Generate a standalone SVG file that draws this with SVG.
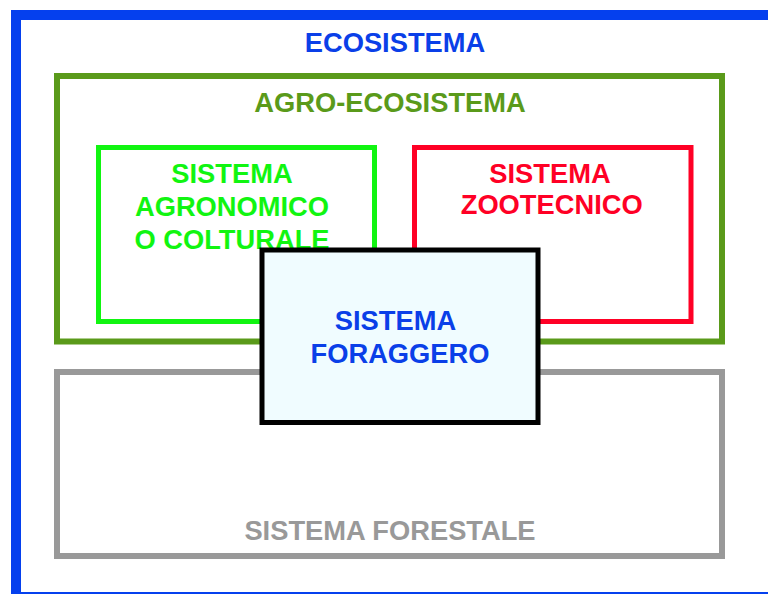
<svg xmlns="http://www.w3.org/2000/svg" width="768" height="594" viewBox="0 0 768 594">
<style>
.t{font-family:"Liberation Sans",Arial,sans-serif;font-weight:bold;font-size:27.3px;text-anchor:middle}
.box{fill:none}
</style>
<rect width="768" height="594" fill="#ffffff"/>
<g id="ecosistema">
<rect class="box" x="16" y="15" width="800" height="582" stroke="#0540EE" stroke-width="10"/>
<text class="t" x="395" y="52" fill="#0A3FE8">ECOSISTEMA</text>
</g>
<g id="agro-ecosistema">
<rect class="box" x="57" y="76" width="665" height="265.5" stroke="#5A9A1A" stroke-width="6"/>
<text class="t" x="390" y="111.5" fill="#5A9A1A">AGRO-ECOSISTEMA</text>
</g>
<g id="forestale">
<rect class="box" x="57" y="372" width="665" height="184" stroke="#999999" stroke-width="6"/>
<text class="t" x="390" y="540" fill="#999999">SISTEMA FORESTALE</text>
</g>
<g id="agronomico">
<rect class="box" x="98.5" y="147.5" width="276" height="174" stroke="#11F511" stroke-width="5"/>
<text class="t" x="232" y="183" fill="#11F511">SISTEMA</text>
<text class="t" x="232" y="216" fill="#11F511">AGRONOMICO</text>
<text class="t" x="232" y="249" fill="#11F511">O COLTURALE</text>
</g>
<g id="zootecnico">
<rect class="box" x="414.5" y="147.5" width="276.5" height="174" stroke="#FF0025" stroke-width="5"/>
<text class="t" x="550" y="182.5" fill="#FF0025">SISTEMA</text>
<text class="t" x="551.7" y="214" fill="#FF0025">ZOOTECNICO</text>
</g>
<g id="foraggero">
<rect x="262" y="250" width="276" height="172.5" fill="#F0FCFF" stroke="#000000" stroke-width="5"/>
<text class="t" x="395.5" y="330" fill="#0A3FE8">SISTEMA</text>
<text class="t" x="400" y="363" fill="#0A3FE8">FORAGGERO</text>
</g>
<g id="connectors"/>
</svg>
